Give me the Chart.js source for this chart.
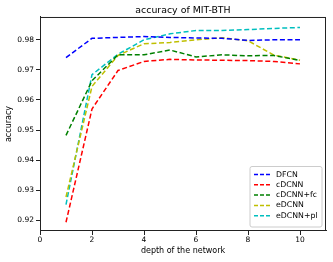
<!DOCTYPE html>
<html>
<head>
<meta charset="utf-8">
<script src="https://cdn.jsdelivr.net/npm/chart.js@4"></script>
<style>
  html, body { margin: 0; padding: 0; background: #fff; }
  #wrap { width: 333px; height: 262px; }
</style>
</head>
<body>
<div id="wrap"><canvas id="grafico" width="333" height="262"></canvas></div>
<script>
// datos
const depth = [1, 2, 3, 4, 5, 6, 7, 8, 9, 10];
const dfcn = [0.9741, 0.9805, 0.9808, 0.9811, 0.9808, 0.9806, 0.9805, 0.9798, 0.9800, 0.9800];
const cdcnn = [0.9193, 0.9570, 0.9698, 0.9728, 0.9735, 0.9733, 0.9732, 0.9731, 0.9728, 0.9720];
const cdcnnFc = [0.9482, 0.9664, 0.9750, 0.9750, 0.9766, 0.9743, 0.9750, 0.9747, 0.9748, 0.9731];
const edcnn = [0.9277, 0.9645, 0.9748, 0.9787, 0.9791, 0.9800, 0.9807, 0.9797, 0.9749, 0.9732];
const edcnnPl = [0.9252, 0.9684, 0.9752, 0.9800, 0.9820, 0.9831, 0.9831, 0.9834, 0.9838, 0.9841];
const xTicks = [0, 2, 4, 6, 8, 10];
const yTicks = [0.92, 0.93, 0.94, 0.95, 0.96, 0.97, 0.98];

function serie(label, valores, color) {
  return {
    label: label,
    data: depth.map((x, i) => ({ x: x, y: valores[i] })),
    borderColor: color,
    backgroundColor: color,
    borderWidth: 1.5,
    borderDash: [5, 2.6],
    pointRadius: 0,
    tension: 0,
    fill: false
  };
}

// marco y leyenda dentro del area
const marcoPlugin = {
  id: 'marco',
  afterDraw(chart) {
    const c = chart.ctx;
    const a = chart.chartArea;
    c.save();
    c.strokeStyle = '#222';
    c.lineWidth = 1;
    c.setLineDash([]);
    c.strokeRect(a.left + 0.5, a.top + 0.5, a.right - a.left - 1, a.bottom - a.top - 1);

    const sets = chart.data.datasets;
    const w = 72, rowH = 10.3;
    const h = sets.length * rowH + 9;
    const x0 = a.right - w - 4, y0 = a.bottom - h - 4;
    c.fillStyle = 'rgba(255,255,255,0.85)';
    c.strokeStyle = '#ccc';
    c.beginPath();
    c.roundRect(x0, y0, w, h, 2);
    c.fill();
    c.stroke();
    c.font = '7.8px "DejaVu Sans"';
    c.textBaseline = 'middle';
    c.textAlign = 'left';
    sets.forEach((ds, i) => {
      const y = y0 + 8 + i * rowH;
      c.strokeStyle = ds.borderColor;
      c.lineWidth = 1.5;
      c.setLineDash([4, 2]);
      c.beginPath();
      c.moveTo(x0 + 4, y);
      c.lineTo(x0 + 20, y);
      c.stroke();
      c.fillStyle = '#000';
      c.fillText(ds.label, x0 + 26, y);
    });
    c.restore();
  }
};

const GraficoAccuracy = new Chart(document.getElementById('grafico'), {
  type: 'line',
  data: {
    datasets: [
      serie('DFCN', dfcn, '#0000ff'),
      serie('cDCNN', cdcnn, '#ff0000'),
      serie('cDCNN+fc', cdcnnFc, '#008000'),
      serie('eDCNN', edcnn, '#bfbf00'),
      serie('eDCNN+pl', edcnnPl, '#00bfbf')
    ]
  },
  options: {
    responsive: false,
    animation: false,
    layout: { padding: { left: 0, right: 7, top: 0, bottom: 0 } },
    plugins: {
      legend: { display: false },
      tooltip: { enabled: false },
      title: {
        display: true,
        text: 'accuracy of MIT-BTH',
        fullSize: false,
        color: '#000',
        font: { family: 'DejaVu Sans', size: 9.4, weight: 'normal' },
        padding: { top: 5, bottom: 0.7 }
      }
    },
    scales: {
      x: {
        type: 'linear',
        min: 0,
        max: 11,
        afterFit(scale) { scale.height = 31; },
        afterBuildTicks(scale) { scale.ticks = xTicks.map(v => ({ value: v })); },
        ticks: {
          includeBounds: false,
          color: '#000',
          padding: 1,
          maxRotation: 0,
          font: { family: 'DejaVu Sans', size: 7.5 },
          callback: v => String(v)
        },
        grid: { display: true, drawOnChartArea: false, drawTicks: true, tickLength: 4, color: '#222' },
        border: { display: true, color: '#222' },
        title: {
          display: true,
          text: 'depth of the network',
          color: '#000',
          font: { family: 'DejaVu Sans', size: 8 },
          padding: { top: 0, bottom: 6.5 }
        }
      },
      y: {
        type: 'linear',
        min: 0.9164,
        max: 0.9876,
        afterFit(scale) { scale.width = 40; },
        afterBuildTicks(scale) { scale.ticks = yTicks.map(v => ({ value: v })); },
        ticks: {
          includeBounds: false,
          color: '#000',
          padding: 2,
          font: { family: 'DejaVu Sans', size: 7.5 },
          callback: v => v.toFixed(2)
        },
        grid: { display: true, drawOnChartArea: false, drawTicks: true, tickLength: 4, color: '#222' },
        border: { display: true, color: '#222' },
        title: {
          display: true,
          text: 'accuracy',
          color: '#000',
          font: { family: 'DejaVu Sans', size: 8 },
          padding: { top: 3.7, bottom: 0 }
        }
      }
    }
  },
  plugins: [marcoPlugin]
});
</script>
</body>
</html>
